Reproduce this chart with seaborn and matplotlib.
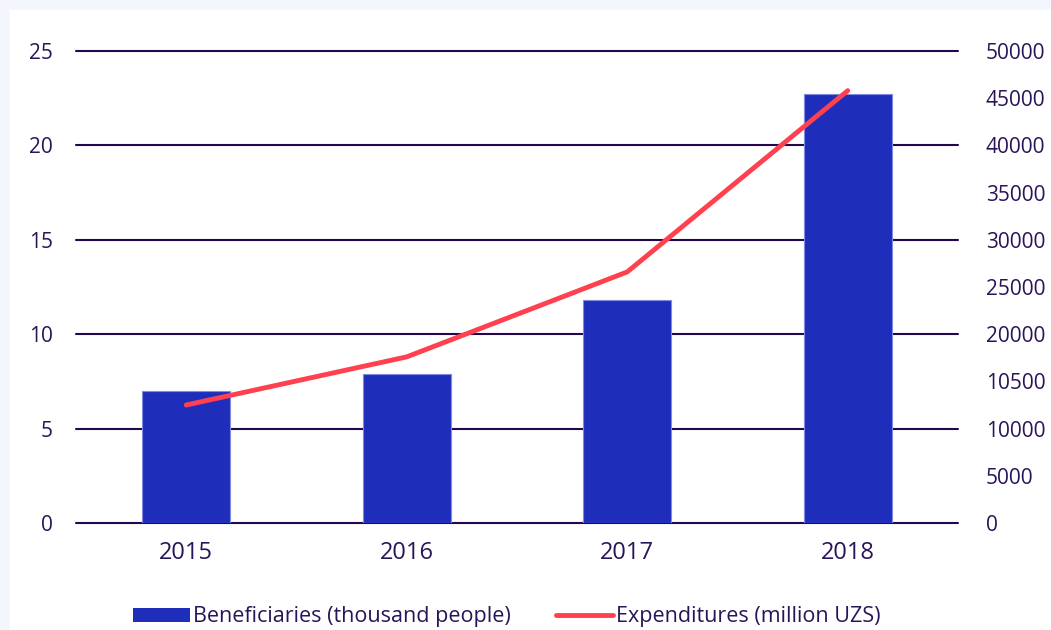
import numpy as np
import pandas as pd
import matplotlib
matplotlib.use("Agg")
import matplotlib.pyplot as plt
import seaborn as sns
from matplotlib.patches import Rectangle
from matplotlib.lines import Line2D
from matplotlib.patches import Patch

sns.set_theme(style="white")
plt.rcParams['font.family'] = ['Open Sans', 'DejaVu Sans']

# data
years = ["2015", "2016", "2017", "2018"]
beneficiaries = [7.0, 7.9, 11.8, 22.7]
expenditures = [12500, 17600, 26600, 45800]
left_ticks = [0, 5, 10, 15, 20, 25]
right_ticks = [0, 5000, 10000, 15000, 20000, 25000, 30000, 35000, 40000, 45000, 50000]
right_labels = ["0", "5000", "10000", "10500", "20000", "25000", "30000", "35000", "40000", "45000", "50000"]

bar_color = "#1f2dbb"
line_color = "#ff414f"
text_color = "#2a1458"
grid_color = "#24064f"

df = pd.DataFrame({"year": years, "ben": beneficiaries, "exp": expenditures})
df["pos"] = np.arange(len(df))

fig = plt.figure(figsize=(10.51, 6.3), dpi=100)
fig.patch.set_facecolor("#f3f7fd")
fig.patches.append(Rectangle((10 / 1051, 0), 1, 1 - 10 / 630, transform=fig.transFigure,
                             facecolor="white", edgecolor="none", zorder=-10))

ax = fig.add_axes([76 / 1051, 107 / 630, 882 / 1051, 472 / 630])
ax.set_facecolor("none")
for y in left_ticks:
    ax.axhline(y, color=grid_color, lw=1.5, zorder=1, clip_on=False)

sns.barplot(data=df, x="year", y="ben", color=bar_color, width=0.4, saturation=1,
            edgecolor="#7f8be0", linewidth=0.8, ax=ax, zorder=2)
ax.set_xlim(-0.5, 3.5)
ax.set_ylim(0, 25)
ax.set_yticks(left_ticks)
ax.set_xlabel("")
ax.set_ylabel("")
ax.tick_params(axis="y", length=0, pad=16.5, labelsize=15, labelcolor=text_color)
ax.tick_params(axis="x", length=0, pad=13, labelsize=17, labelcolor=text_color)
for s in ax.spines.values():
    s.set_visible(False)

ax2 = ax.twinx()
sns.lineplot(data=df, x="pos", y="exp", color=line_color, lw=3.5, ax=ax2, zorder=3,
             solid_capstyle="round")
ax2.set_ylim(0, 50000)
ax2.set_yticks(right_ticks)
ax2.set_yticklabels(right_labels)
ax2.set_ylabel("")
ax2.set_xlabel("")
ax2.tick_params(axis="y", length=0, pad=20, labelsize=15, labelcolor=text_color)
for s in ax2.spines.values():
    s.set_visible(False)
ax.set_xlim(-0.5, 3.5)

handles = [Patch(facecolor=bar_color, edgecolor="none"),
           Line2D([0], [0], color=line_color, lw=3.5, solid_capstyle="round")]
fig.legend(handles, ["Beneficiaries (thousand people)", "Expenditures (million UZS)"],
           loc="center", bbox_to_anchor=(0.482, 0.021), ncol=2, frameon=False,
           fontsize=15.5, labelcolor=text_color, handlelength=2.65, handleheight=0.65,
           handletextpad=0.15, columnspacing=2.1)

fig.savefig("out.png", dpi=100)
